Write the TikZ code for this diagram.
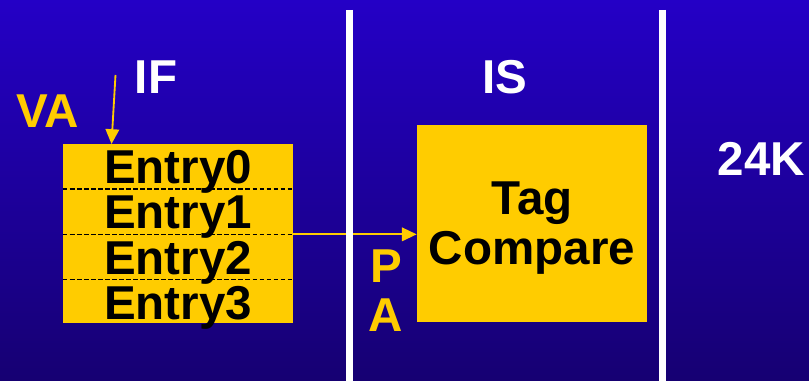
\documentclass[tikz,border=0pt]{standalone}
\usepackage{fontspec}
\setmainfont{Liberation Sans}
\usetikzlibrary{arrows.meta, positioning}
\definecolor{slideTop}{RGB}{36,0,198}
\definecolor{slideBot}{RGB}{22,0,114}
\definecolor{gold}{HTML}{FFCC00}

\begin{document}
\begin{tikzpicture}[
  x=0.025cm, y=-0.025cm,
  every node/.style={font=\fontsize{33.8}{35.6}\selectfont\bfseries, inner sep=0pt},
  lbl/.style={text height=24.2pt, text depth=0pt},
  entry/.style={minimum width=5.75cm, minimum height=1.11875cm,
                text height=24.2pt, text depth=0pt},
  sep/.style={black, dash pattern=on 3.4pt off 1.6pt, line width=1.1pt},
  arr/.style={-{Triangle[length=0.37cm, width=0.34cm]}, gold, line width=1.3pt},
  stage/.style={white, line width=0.175cm}
]
% background
\shade[top color=slideTop, bottom color=slideBot] (0,0) rectangle (809,381);
\useasboundingbox (0,0) rectangle (809,381);

% stage titles
\node[lbl, white] (if)  at (156,76.5)  {IF};
\node[lbl, white] (is)  at (505,76.5)  {IS};
\node[lbl, white] (sz)  at (761.5,158) {24K};

% TLB with its entries
\node[fill=gold, minimum width=5.75cm, minimum height=4.475cm] (tlb) at (178,233.5) {};
\node[entry, below=0pt of tlb.north] (e0) {Entry0};
\node[entry, below=0pt of e0] (e1) {Entry1};
\node[entry, below=0pt of e1] (e2) {Entry2};
\node[entry, below=0pt of e2] (e3) {Entry3};
\draw[sep] (e0.south west) -- (e0.south east);
\draw[sep] (e1.south west) -- (e1.south east);
\draw[sep] (e2.south west) -- (e2.south east);

% virtual address in
\node[lbl, gold] (va) at (48,110.5) {VA};
\coordinate (vain) at (115.5,75);
\draw[arr] (vain) -- (111.5,144);

% tag compare
\node[fill=gold, minimum width=5.75cm, minimum height=4.925cm] (tc) at (532,223.5) {};
\node[align=center] (tctext) at (532,228) {Tag\\Compare};

% physical address
\draw[arr] (e2.north east) -- (e2.north east -| tc.west);
\node[lbl, gold] (p) at (386,265.5) {P};
\node[lbl, gold, below=0.35cm of p] (a) {A};

% pipeline boundaries
\coordinate (b1t) at (349.5,10);
\coordinate (b1b) at (349.5,381);
\coordinate (b2t) at (662.5,10);
\coordinate (b2b) at (662.5,381);
\draw[stage] (b1t) -- (b1b);
\draw[stage] (b2t) -- (b2b);
\end{tikzpicture}
\end{document}
